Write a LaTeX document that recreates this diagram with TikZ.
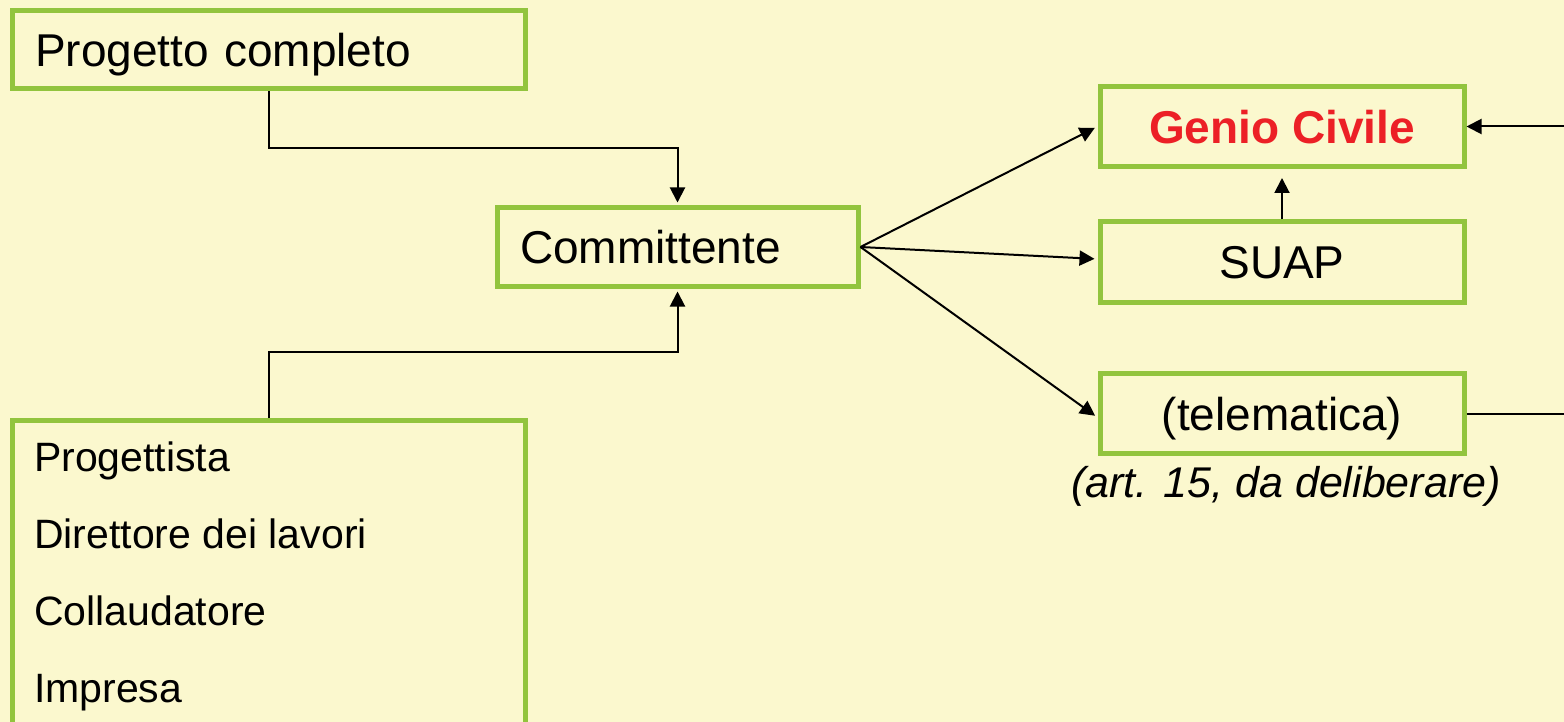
\documentclass[tikz,border=0pt]{standalone}
\usepackage{fontspec}
\setmainfont{Liberation Sans}
\usetikzlibrary{arrows.meta}
\definecolor{bgyellow}{RGB}{251,248,206}
\definecolor{boxgreen}{RGB}{146,196,62}
\definecolor{geniored}{RGB}{236,32,38}
\tikzset{
  greenbox/.style={draw=boxgreen, line width=5pt, fill=bgyellow, rectangle, text depth=0pt},
  bigtext/.style={font=\fontsize{46}{55}\selectfont},
  conn/.style={draw=black, line width=2pt},
  arr/.style={conn, -{Triangle[length=15pt,width=15pt]}, shorten >=3pt}
}
\begin{document}
\begin{tikzpicture}[x=1pt,y=-1pt]
\fill[bgyellow] (0,0) rectangle (1564,722);
\useasboundingbox (0,0) rectangle (1564,722);

% boxes
\node[greenbox, bigtext, minimum width=513pt, minimum height=78pt, text width=467pt, align=left, inner xsep=23pt, inner ysep=0pt] (prog) at (268.5,50) {Progetto completo};
\node[greenbox, bigtext, minimum width=361pt, minimum height=78pt, text width=315pt, align=left, inner xsep=23pt, inner ysep=0pt] (comm) at (677.5,247) {Committente};
\node[greenbox, font=\bfseries\fontsize{46}{55}\selectfont, text=geniored, minimum width=364pt, minimum height=80pt, inner sep=0pt] (genio) at (1282,126.5) {Genio Civile};
\node[greenbox, bigtext, minimum width=364pt, minimum height=80pt, inner sep=0pt] (suap) at (1282,262) {SUAP};
\node[greenbox, bigtext, minimum width=364pt, minimum height=80pt, inner sep=0pt] (tele) at (1282,413.5) {(telematica)};
\node[font=\itshape\fontsize{43}{50}\selectfont, anchor=base, inner sep=0pt] (art) at (1286,497) {(art. 15, da deliberare)};

\node[greenbox, anchor=north, minimum width=513pt, minimum height=340pt, inner sep=0pt] (team) at (268.5,418) {};
\node[font=\fontsize{41}{77}\selectfont, anchor=north west, align=left, inner sep=0pt] (teamtext) at (34,442) {Progettista\\Direttore dei lavori\\Collaudatore\\Impresa};

% connectors
\coordinate (jt) at (400,148);
\coordinate (jb) at (400,352);
\draw[arr] (prog.south) |- (jt) -| (comm.north);
\draw[arr] (team.north) |- (jb) -| (comm.south);

\draw[arr] (comm.east) -- ([yshift=0pt]genio.west);
\draw[arr] (comm.east) -- ([yshift=3pt]suap.west);
\draw[arr] (comm.east) -- ([yshift=-4pt]tele.west);
\draw[arr, shorten >=9pt] (suap.north) -- (genio.south);

\coordinate (re1) at (1564,126.5);
\coordinate (re2) at (1564,413.5);
\draw[arr, shorten >=0pt] (re1) -- (genio.east);
\draw[conn] (tele.east) -- (re2);
\end{tikzpicture}
\end{document}
